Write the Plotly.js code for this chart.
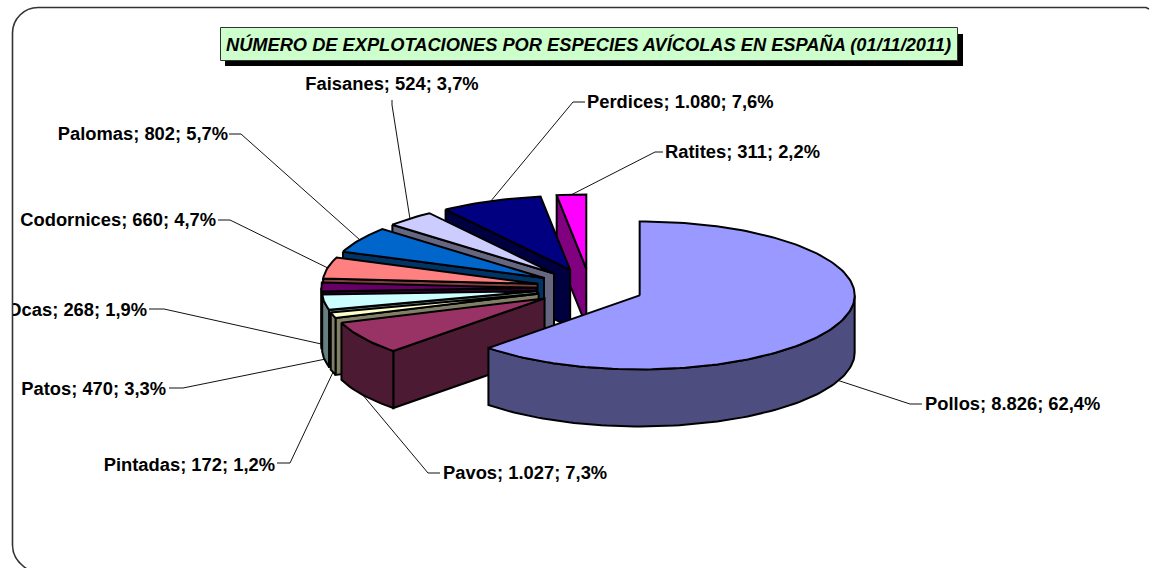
<!DOCTYPE html>
<html>
<head>
<meta charset="utf-8">
<script src="https://cdn.plot.ly/plotly-3.0.1.min.js"></script>
<style>html,body{margin:0;padding:0;background:#fff;overflow:hidden}</style>
</head>
<body>
<div id="chart" style="width:1150px;height:568px"></div>
<script>
// ---- data ----
const categories = ["Pollos","Pavos","Pintadas","Patos","Ocas","Codornices","Palomas","Faisanes","Perdices","Ratites"];
const values = [8826,1027,172,470,268,660,802,524,1080,311];
const titleText = "NÚMERO DE EXPLOTACIONES POR ESPECIES AVÍCOLAS EN ESPAÑA (01/11/2011)";

// ---- styles ----
const topColors  = ["#9999FF","#993366","#FFFFCC","#CCFFFF","#660066","#FF8080","#0066CC","#CCCCFF","#000080","#FF00FF"];
const sideColors = ["#4D4D80","#4D1A33","#808066","#668080","#330033","#804040","#003366","#666680","#000040","#800080"];
const pie = {cx:590, cy:288, rx:215, ry:74, ex:53.7, ey:19.5, depth:57};
const labelSize = 18.35, titleSize = 18.25;
// label anchor and elbow of each leader, in chart pixels
const labelLayout = [
  {x:925, y:405, pos:"middle right", elbow:[[910,404],[922,404]]},
  {x:443, y:474, pos:"middle right", elbow:[[428,473],[440,473]]},
  {x:275, y:466, pos:"middle left",  elbow:[[290,463],[277,463]]},
  {x:166, y:390, pos:"middle left",  elbow:[[183,388],[169,388]]},
  {x:147, y:311, pos:"middle left",  elbow:[[164,309],[149,309]]},
  {x:216, y:221, pos:"middle left",  elbow:[[230,220],[218,220]]},
  {x:228, y:135, pos:"middle left",  elbow:[[241,134],[229,134]]},
  {x:392, y:85,  pos:"middle center",elbow:[[392,105],[392,100]]},
  {x:587, y:103, pos:"middle right", elbow:[[573,102],[585,102]]},
  {x:665, y:153, pos:"middle right", elbow:[[655,152],[663,152]]}
];

// ---- geometry derived from the values ----
const total = values.reduce((a,b)=>a+b,0);
const rad = d => d*Math.PI/180;
let cum = 0;
const slices = values.map((v,i)=>{
  const a0 = cum/total*360; cum += v; const a1 = cum/total*360; const mid = (a0+a1)/2;
  return {i,a0,a1,mid,
    ax: pie.cx + pie.ex*Math.sin(rad(mid)),
    ay: pie.cy - pie.ey*Math.cos(rad(mid))};
});
const arcPt = (s,a,dz=0)=>[s.ax+pie.rx*Math.sin(rad(a)), s.ay-pie.ry*Math.cos(rad(a))+dz];
function arc(s,a0,a1,dz){
  const n = Math.max(2,Math.ceil((a1-a0)/1.5)); const out=[];
  for(let k=0;k<=n;k++) out.push(arcPt(s,a0+(a1-a0)*k/n,dz));
  return out;
}
function poly(pts,fill){
  const p = pts.concat([pts[0]]);
  return {type:"scatter",mode:"lines",x:p.map(q=>q[0]),y:p.map(q=>q[1]),fill:"toself",fillcolor:fill,
    line:{color:"#000",width:2,shape:"linear"},hoverinfo:"skip",showlegend:false,cliponaxis:false};
}
const traces = [];
// leaders, under the solids
slices.forEach(s=>{
  const start = arcPt(s,s.mid,s.mid<275?pie.depth:0);
  const pts = [start].concat(labelLayout[s.i].elbow);
  traces.push({type:"scatter",mode:"lines",x:pts.map(q=>q[0]),y:pts.map(q=>q[1]),
    line:{color:"#111",width:1},hoverinfo:"skip",showlegend:false});
});
// solids, back to front
[9,8,7,6,5,4,3,2,1,0].forEach(i=>{
  const s = slices[i], apex=[s.ax,s.ay], apexB=[s.ax,s.ay+pie.depth];
  const side = sideColors[i];
  if(s.a0>180){ // start wall faces the viewer
    traces.push(poly([arcPt(s,s.a0),apex,apexB,arcPt(s,s.a0,pie.depth)],side));
  }
  const w0=Math.max(s.a0,90), w1=Math.min(s.a1,270);
  if(w1>w0){
    traces.push(poly(arc(s,w0,w1,0).concat(arc(s,w0,w1,pie.depth).reverse()),side));
  }
  traces.push(poly([apex].concat(arc(s,s.a0,s.a1,0)),topColors[i]));
});
// labels
const es = n => String(n).replace(/\B(?=(\d{3})+(?!\d))/g,".");
const labelText = categories.map((c,i)=>`${c}; ${es(values[i])}; ${(values[i]/total*100).toFixed(1).replace(".",",")}%`);
traces.push({type:"scatter",mode:"text",x:labelLayout.map(l=>l.x),y:labelLayout.map(l=>l.y),
  text:labelText,textposition:labelLayout.map(l=>l.pos),
  textfont:{family:"Liberation Sans, Arial, sans-serif",size:labelSize,color:"#000",weight:700},
  cliponaxis:true,hoverinfo:"skip",showlegend:false});

// ---- layout ----
const L=13, W=1150, H=568;
const px = x => (x-L)/(W-L), py = y => 1-y/H;
const frame = `M ${px(1149)} ${py(9)} L ${px(1146)} ${py(7.5)} L ${px(38)} ${py(7.5)} `+
  `C ${px(24)} ${py(7.5)} ${px(12.5)} ${py(19)} ${px(12.5)} ${py(33)} L ${px(12.5)} ${py(545)} `+
  `C ${px(12.5)} ${py(556)} ${px(18)} ${py(563)} ${px(27)} ${py(569)}`;
const layout = {
  width:W,height:H,margin:{l:L,r:0,t:0,b:0,pad:0},paper_bgcolor:"#fff",plot_bgcolor:"#fff",showlegend:false,
  xaxis:{range:[L,W],visible:false,fixedrange:true},
  yaxis:{range:[H,0],visible:false,fixedrange:true},
  title:{text:titleText,x:(220+957)/2/W,xanchor:"center",xref:"container",y:1-44.5/H,yanchor:"middle",yref:"container",
    font:{family:"Liberation Sans, Arial, sans-serif",size:titleSize,color:"#000",weight:700,style:"italic"}},
  shapes:[
    {type:"path",xref:"paper",yref:"paper",path:frame,line:{color:"#333",width:1.6},layer:"above"},
    {type:"rect",xref:"x",yref:"y",x0:225,x1:963,y0:34,y1:66,fillcolor:"#000",line:{width:0},layer:"below"},
    {type:"rect",xref:"x",yref:"y",x0:220.5,x1:957.5,y0:27.5,y1:60.5,fillcolor:"#CCFFCC",line:{color:"#333",width:1},layer:"below"}
  ]
};
Plotly.newPlot("chart",traces,layout,{displayModeBar:false,staticPlot:true});
</script>
</body>
</html>
